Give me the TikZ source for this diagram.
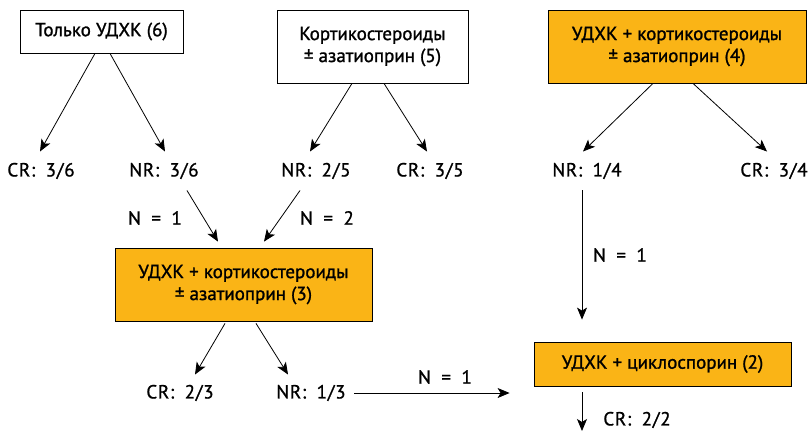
\documentclass[tikz,border=0pt]{standalone}
\usepackage{fontspec}
\setmainfont{PT Sans}
\newfontfamily\boxfont{PT Sans}[RawFeature={embolden=1.2}]
\newfontfamily\resfont{PT Sans}[LetterSpace=4, WordSpace=1.8, RawFeature={embolden=1}]
\usetikzlibrary{positioning, calc, arrows.meta}
\definecolor{udxk}{RGB}{250,180,22}

\begin{document}
\begin{tikzpicture}[x=1pt, y=1pt, line width=0.8pt,
    box/.style={draw, line width=0.8pt, align=center, inner sep=0pt,
      font=\boxfont\fontsize{19}{22}\selectfont},
    res/.style={inner sep=0pt, font=\resfont\fontsize{19}{20}\selectfont},
    >={Stealth[length=12pt,width=10pt,inset=3pt]}]

  \useasboundingbox (0,0) rectangle (809,-431);

  % treatment boxes
  \node[box, minimum width=163, minimum height=43] (only) at (101.5,-31.5) {Только УДХК (6)};
  \node[box, minimum width=191, minimum height=73] (cort) at (372.5,-46.5) {Кортикостероиды\\± азатиоприн (5)};
  \node[box, fill=udxk, minimum width=258, minimum height=73] (comb) at (677,-46.5) {УДХК + кортикостероиды\\± азатиоприн (4)};
  \node[box, fill=udxk, minimum width=257, minimum height=73] (combb) at (243.5,-284.5) {УДХК + кортикостероиды\\± азатиоприн (3)};
  \node[box, fill=udxk, minimum width=257, minimum height=44] (cyclo) at (662.5,-364) {УДХК + циклоспорин (2)};

  % results
  \node[res] (cr6) at (41,-171) {CR: 3/6};
  \node[res] (nr6) at (164,-171) {NR: 3/6};
  \node[res] (nr5) at (316,-171) {NR: 2/5};
  \node[res] (cr5) at (430,-171) {CR: 3/5};
  \node[res] (nr4) at (587,-171) {NR: 1/4};
  \node[res] (cr4) at (774,-171) {CR: 3/4};
  \node[res] (cr3) at (180,-393) {CR: 2/3};
  \node[res] (nr3) at (311,-393) {NR: 1/3};
  \node[res] (cr2) at (637,-420) {CR: 2/2};

  % counts
  \node[res] (na) at (155,-218) {N = 1};
  \node[res] (nb) at (327,-218) {N = 2};
  \node[res] (nc) at (620,-255) {N = 1};
  \node[res] (nd) at (445,-377) {N = 1};
  \coordinate (cr2tip) at (582,-431);

  \draw[->] ([xshift=-6.5pt]only.south) -- ([xshift=-1pt,yshift=11pt]cr6.north);
  \draw[->] ([xshift=8.5pt]only.south) -- ([xshift=1pt,yshift=11pt]nr6.north);
  \draw[->] ([xshift=-20.5pt]cort.south) -- ([xshift=-6pt,yshift=11pt]nr5.north);
  \draw[->] ([xshift=11.5pt]cort.south) -- ([xshift=-3pt,yshift=11pt]cr5.north);
  \draw[->] ([xshift=-24pt]comb.south) -- ([xshift=-4pt,yshift=11pt]nr4.north);
  \draw[->] ([xshift=16pt]comb.south) -- ([xshift=-7pt,yshift=11pt]cr4.north);

  \draw[->] ([xshift=23pt,yshift=-11pt]nr6.south) -- ([xshift=-25.5pt,yshift=6pt]combb.north);
  \draw[->] ([xshift=-16pt,yshift=-11pt]nr5.south) -- ([xshift=20.5pt,yshift=6pt]combb.north);
  \draw[->] ([xshift=-5pt,yshift=-11pt]nr4.south) -- ([xshift=-80.5pt,yshift=22pt]cyclo.north);

  \draw[->] ([xshift=-18.5pt,yshift=-2pt]combb.south) -- ([xshift=15pt,yshift=10pt]cr3.north);
  \draw[->] ([xshift=12.5pt,yshift=-2pt]combb.south) -- ([xshift=-23pt,yshift=10pt]nr3.north);
  \draw[->] ([xshift=8pt]nr3.east) -- ($(nr3.east -| cyclo.west)+(-24,0)$);
  \draw[->] ([xshift=-80.5pt,yshift=-6pt]cyclo.south) -- (cr2tip);
\end{tikzpicture}
\end{document}
